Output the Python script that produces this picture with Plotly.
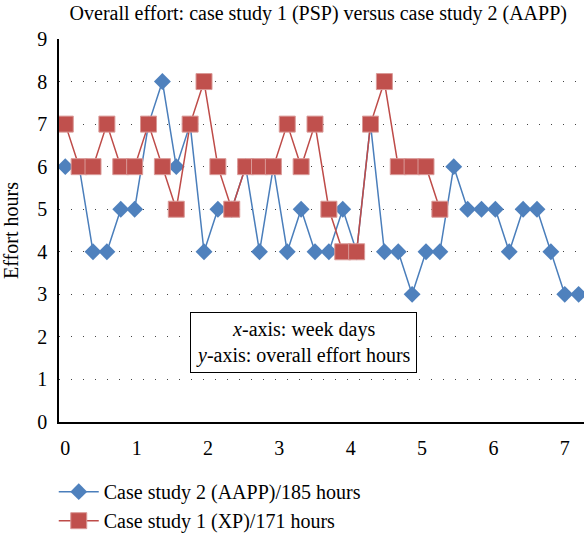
import plotly.graph_objects as go

# Data
step = 7 / 36
aapp_hours = [6, 6, 4, 4, 5, 5, 7, 8, 6, 7, 4, 5, 5, 6, 4, 6, 4, 5, 4, 4, 5, 4, 7, 4,
              4, 3, 4, 4, 6, 5, 5, 5, 4, 5, 5, 4, 3, 3]
xp_hours = [7, 6, 6, 7, 6, 6, 7, 6, 5, 7, 8, 6, 5, 6, 6, 6, 7, 6, 7, 5, 4, 4, 7, 8,
            6, 6, 6, 5]
aapp_x = [i * step for i in range(len(aapp_hours))]
xp_x = [i * step for i in range(len(xp_hours))]
x_ticks = [0, 1, 2, 3, 4, 5, 6, 7]
y_ticks = [0, 1, 2, 3, 4, 5, 6, 7, 8, 9]

FONT = "Liberation Serif"
FS = 20

fig = go.Figure()
fig.add_trace(go.Scatter(
    x=aapp_x, y=aapp_hours, mode="lines+markers",
    name="Case study 2 (AAPP)/185 hours",
    line=dict(color="#4A7EBB", width=1.5),
    marker=dict(symbol="diamond", size=13, color="#4F81BD",
                line=dict(color="#4F81BD", width=0)),
))
fig.add_trace(go.Scatter(
    x=xp_x, y=xp_hours, mode="lines+markers",
    name="Case study 1 (XP)/171 hours",
    line=dict(color="#BE4B48", width=1.5),
    marker=dict(symbol="square", size=16, color="#C0504D",
                line=dict(color="#DA9A98", width=1)),
))

fig.add_annotation(
    x=3.34, y=1.88, xref="x", yref="y",
    text="<i>x</i>-axis: week days<br><i>y</i>-axis: overall effort hours",
    showarrow=False, font=dict(family=FONT, size=FS, color="black"),
    bordercolor="black", borderwidth=1, borderpad=5, bgcolor="white",
)

fig.update_layout(
    width=584, height=533,
    margin=dict(l=59, r=0, t=39, b=111, autoexpand=False),
    paper_bgcolor="white", plot_bgcolor="white",
    font=dict(family=FONT, size=FS, color="black"),
    title=dict(text="Overall effort: case study 1 (PSP) versus case study 2 (AAPP)",
               x=0.545, xanchor="center", y=0.975, yanchor="middle",
               font=dict(family=FONT, size=FS, color="black")),
    showlegend=True,
    legend=dict(x=-0.01, xanchor="left", y=-0.131, yanchor="top",
                font=dict(family=FONT, size=FS, color="black"),
                itemwidth=40,
                bgcolor="rgba(0,0,0,0)", tracegroupgap=0),
    xaxis=dict(range=[-0.088, 7.27], tickvals=x_ticks, showgrid=False,
               zeroline=False, showline=True, linecolor="black", linewidth=1.5,
               ticks="", ticklabelstandoff=7, tickfont=dict(family=FONT, size=FS)),
    yaxis=dict(range=[0, 9], tickvals=y_ticks, showgrid=True,
               gridcolor="#444", gridwidth=1, griddash="1px,11px",
               zeroline=False, showline=True, linecolor="black", linewidth=1.5,
               ticks="", ticklabelstandoff=6,
               title=dict(text="Effort hours", font=dict(family=FONT, size=FS), standoff=14),
               tickfont=dict(family=FONT, size=FS)),
)

fig.write_html("out.html")
